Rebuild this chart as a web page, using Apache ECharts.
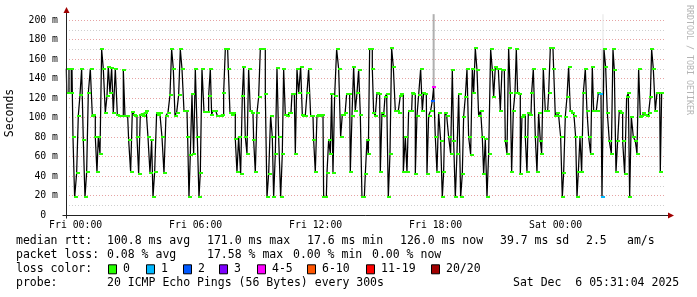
<!DOCTYPE html>
<html><head><meta charset="utf-8">
<script src="https://cdn.jsdelivr.net/npm/echarts@6/dist/echarts.min.js"></script>
<style>html,body{margin:0;padding:0;background:#fff}#c{width:697px;height:297px}</style>
</head><body><div id="c"></div>
<script>
// sample times: minutes relative to Fri 00:00
const minutes = [
-28,-25,-22,-18,-14,-12,-10,-6,0,6,10,16,20,26,30,36,40,48,52,56,62,66,70,76,80,86,92,96,100,106,110,116,122,128,134,140,146,150,156,162,168,172,178,182,186,192,196,202,206,210,214,220,226,230,234,240,246,250,256,262,268,274,280,286,290,296,300,306,312,316,322,328,334,338,342,346,352,356,362,368,372,376,382,388,392,396,402,406,410,
414,418,422,428,434,438,442,446,452,456,460,466,472,476,482,486,492,498,502,506,512,516,522,526,532,536,542,546,552,556,562,566,572,576,582,588,592,596,602,606,612,618,622,626,632,636,642,646,652,656,662,666,672,678,682,686,692,696,702,708,712,716,722,726,730,736,742,746,752,756,762,766,770,774,780,786,792,798,802,806,810,816,822,826,832,836,842,846,852,856,862,
866,872,876,880,884,888,892,896,902,906,912,916,922,926,930,936,940,946,950,956,962,968,972,976,980,986,992,996,1002,1008,1012,1016,1022,1026,1032,1038,1042,1046,1052,1056,1062,1068,1072,1076,1082,1086,1092,1098,1102,1106,1110,1116,1122,1128,1132,1136,1142,1146,1152,1158,1162,1166,1172,1176,1182,1188,1192,1196,1202,1206,1212,1218,1222,1226,1232,1236,1242,1248,1252,1256,1262,1268,1272,1276,1282,1286,1292,1296,1302,1306,1310,
1316,1320,1324,1328,1332,1336,1342,1346,1352,1356,1360,1366,1370,1376,1382,1386,1392,1396,1400,1406,1412,1416,1422,1426,1432,1436,1442,1446,1452,1458,1462,1466,1472,1476,1482,1486,1492,1498,1502,1506,1510,1516,1520,1526,1532,1536,1542,1548,1552,1556,1562,1566,1570,1576,1582,1588,1592,1598,1604,1610,1614,1618,1624,1628,1634,1638,1644,1650,1656,1660,1664,1670,1676,1682,1686,1692,1696,1700,1704,1710,1716,1722,1726,1730,1736,1742,1746,1752,1756,1760
];
// median rtt in ms
const rttMs = [
150,125,125,150,150,125,150,80,18,43,102,123,150,77,18,44,125,150,102,103,80,44,80,63,170,150,105,122,152,125,151,105,150,103,102,102,149,102,102,77,44,106,103,102,80,42,103,104,102,105,107,80,43,77,18,44,105,103,105,80,43,102,105,123,170,150,102,105,123,170,150,107,107,80,18,62,124,63,150,80,18,43,150,106,106,106,122,150,103,
107,107,107,102,102,102,103,125,170,170,150,105,103,105,78,44,80,42,122,152,80,63,150,107,105,77,44,105,121,170,170,170,124,18,42,102,80,18,63,151,80,18,63,150,103,102,105,105,124,124,63,150,125,152,103,102,102,125,150,102,102,77,44,102,103,102,103,18,18,43,77,63,124,43,122,170,150,80,103,103,105,124,124,44,102,152,107,125,149,103,18,
18,42,77,63,170,170,150,105,102,125,124,44,105,102,121,124,18,63,171,152,107,107,105,122,124,44,80,44,107,107,125,124,42,102,123,150,107,125,124,42,102,107,117,131,80,44,105,76,18,44,105,102,80,63,149,76,18,63,124,18,42,101,121,150,80,62,150,125,171,149,102,107,80,42,78,18,63,170,149,121,152,150,150,107,149,149,76,63,171,125,44,
107,125,170,125,124,42,101,103,80,44,105,103,125,150,80,44,105,76,63,150,107,107,125,171,171,150,102,105,102,80,18,43,101,121,152,107,105,102,80,18,44,80,44,125,150,107,80,63,152,107,107,107,125,124,18,170,152,105,76,63,170,149,44,76,107,105,76,42,121,125,18,101,80,76,63,150,101,102,105,103,102,105,121,170,150,107,125,125,44,125
];
// samples with packet loss: [minute, loss class index]
const lossAt = [[1072,2],[1076,4],[1576,1],[1582,1]];
// smoke spread: [minute, low ms, high ms, shade index, width]
const smoke = [[1074,131,206,0,2],[1582,124,170,1,3],[1582,170,206,2,1]];
const smokeFill = ['#b0b0b0','#dadada','#e4e4e4'];

const xRange = [-28.93, 1771.07];          // Thu 23:31:04 .. Sat 05:31:04
const xTickMinutes = [0,360,720,1080,1440];
const xTickLabels = ['Fri 00:00','Fri 06:00','Fri 12:00','Fri 18:00','Sat 00:00'];
const yMax = 200;

const lossColors = ['#26ff00','#00b8ff','#0059ff','#7e00ff','#ff00ff','#ff5500','#ff0000','#a10000'];
const lossLabels = ['0','1','2','3','4-5','6-10','11-19','20/20'];
const row1 = ['median rtt:','100.8 ms avg','171.0 ms max','17.6 ms min','126.0 ms now','39.7 ms sd','2.5','am/s'];
const row2 = ['packet loss:','0.08 % avg','17.58 % max','0.00 % min','0.00 % now'];
const row4 = ['probe:','20 ICMP Echo Pings (56 Bytes) every 300s','Sat Dec  6 05:31:04 2025'];

// layout
const row1X = [16,107,207,307,400,500,586,627];
const row2X = [16,107,207,293,372];
const row4X = [16,107,513];
const rowY = [241.5,255.5,269.3,283];
const boxX = [108,146,183,219,257,307,366,431];
const MONO = 'DejaVu Sans Mono';

const chart = echarts.init(document.getElementById('c'), null, {renderer:'canvas'});

const lossMap = {};
lossAt.forEach(([m,i]) => lossMap[m] = i);
const lineData = minutes.map((m,i) => [m, rttMs[i]]);
const markData = minutes.map((m,i) => [m, rttMs[i], lossMap[m] !== undefined ? lossMap[m] : 0]);

// vertical grid every hour (major every 2h)
const vgrid = [];
for (let m = Math.ceil(xRange[0]/60)*60; m < xRange[1]; m += 60) {
  const major = (m % 120) === 0;
  vgrid.push([
    {coord:[m,0], lineStyle:{color: major ? '#e6a3a3' : '#cfcfcf', type:[1,2], width:1}},
    {coord:[m,yMax+7]}
  ]);
}

chart.setOption({
  animation:false,
  backgroundColor:'#fff',
  grid:{left:66,right:31,top:20,bottom:82,containLabel:false},
  xAxis:{
    type:'value', min:xRange[0], max:xRange[1],
    axisLine:{show:false}, axisTick:{show:false},
    splitLine:{show:false},
    axisLabel:{
      customValues:xTickMinutes,
      formatter:(v)=>{const i=xTickMinutes.indexOf(Math.round(v)); return i>=0?xTickLabels[i]:'';},
      fontFamily:MONO, fontSize:9.8, color:'#000', margin:5
    }
  },
  yAxis:{
    type:'value', min:0, max:yMax, interval:20,
    axisLine:{show:false}, axisTick:{show:false},
    axisLabel:{formatter:(v)=> v===0 ? '0  ' : v+' m', fontFamily:MONO, fontSize:9.8, color:'#000', margin:8},
    splitLine:{show:true, lineStyle:{color:'#e6a3a3', type:[1,2], width:1}},
    minorTick:{show:false, splitNumber:2},
    minorSplitLine:{show:true, lineStyle:{color:'#cfcfcf', type:[1,2], width:1}}
  },
  series:[
    {type:'line', data:[], silent:true, z:1,
     markLine:{silent:true, symbol:['none','none'], label:{show:false}, animation:false, data:vgrid}},
    {type:'custom', z:2, silent:true, clip:false,
     data:smoke,
     renderItem:(params, api)=>{
       const x=api.value(0), lo=api.value(1), hi=api.value(2), s=api.value(3), w=api.value(4);
       const p1=api.coord([x,lo]), p2=api.coord([x,hi]);
       return {type:'rect', shape:{x:p1[0]-w/2, y:p2[1], width:w, height:p1[1]-p2[1]}, style:{fill:smokeFill[s]}};
     }},
    {type:'line', z:3, data:lineData, step:'middle', showSymbol:false,
     lineStyle:{color:'#000', width:1.25},
     emphasis:{disabled:true}, silent:true},
    {type:'custom', z:5, silent:true, clip:true, data:markData,
     renderItem:(params, api)=>{
       const p = api.coord([api.value(0), api.value(1)]);
       const c = lossColors[api.value(2)];
       return {type:'rect', shape:{x:Math.round(p[0]-2), y:Math.round(p[1]-1), width:4, height:2}, style:{fill:c}};
     }}
  ]
});

// axes lines, arrows and texts
const o = chart.convertToPixel({xAxisIndex:0,yAxisIndex:0},[xRange[0],0]);
const e = chart.convertToPixel({xAxisIndex:0,yAxisIndex:0},[xRange[1],yMax]);
const x0=Math.round(o[0])+0.5, y0=Math.round(o[1])+0.5;
const g = [];
g.push({type:'line', z:100, shape:{x1:x0, y1:y0+3, x2:x0, y2:e[1]-8}, style:{stroke:'#222', lineWidth:1}});
g.push({type:'line', z:100, shape:{x1:x0-4, y1:y0, x2:e[0]+2, y2:y0}, style:{stroke:'#222', lineWidth:1}});
g.push({type:'polygon', z:101, shape:{points:[[x0-3,e[1]-7],[x0+3,e[1]-7],[x0,e[1]-13]]}, style:{fill:'#a00000'}});
g.push({type:'polygon', z:101, shape:{points:[[e[0]+2,y0-3],[e[0]+2,y0+3],[e[0]+8,y0]]}, style:{fill:'#a00000'}});

const txt = (s,x,y,opt={}) => ({type:'text', z:100, x, y, style:Object.assign({text:s, fill:'#000', font:'11.5px "'+MONO+'"', textVerticalAlign:'middle', textAlign:'left'}, opt)});
row1.forEach((s,i)=>g.push(txt(s,row1X[i],rowY[0])));
row2.forEach((s,i)=>g.push(txt(s,row2X[i],rowY[1])));
g.push(txt('loss color:',16,rowY[2]));
lossLabels.forEach((s,i)=>{
  g.push({type:'rect', z:100, shape:{x:boxX[i]+0.5, y:rowY[2]-4.5, width:8, height:9}, style:{fill:lossColors[i], stroke:'#000', lineWidth:1}});
  g.push(txt(s,boxX[i]+15,rowY[2]));
});
row4.forEach((s,i)=>g.push(txt(s,row4X[i],rowY[3])));
g.push({type:'text', z:100, x:10, y:113, rotation:Math.PI/2, style:{text:'Seconds', fill:'#000', font:'11.5px "'+MONO+'"', textAlign:'center', textVerticalAlign:'middle'}});
g.push({type:'text', z:100, x:689, y:60, rotation:-Math.PI/2, style:{text:'RRDTOOL / TOBI OETIKER', fill:'#b4b4b4', font:'8.3px "'+MONO+'"', textAlign:'center', textVerticalAlign:'middle'}});
chart.setOption({graphic:{elements:g}});
</script></body></html>
